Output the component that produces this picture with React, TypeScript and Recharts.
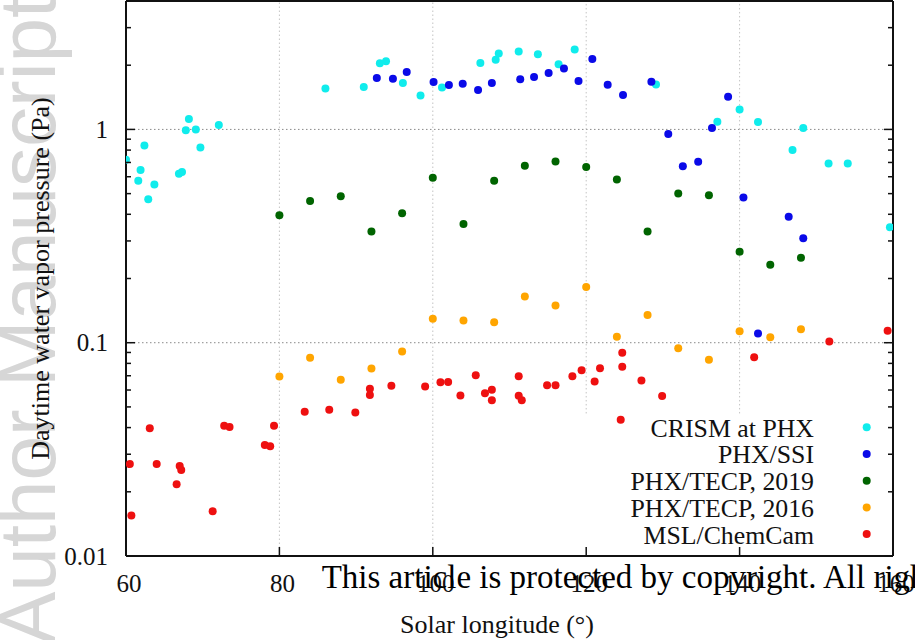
import React from 'react';
import { ScatterChart, Scatter, XAxis, YAxis, ReferenceLine, Legend } from 'recharts';

// ---------- data (Solar longitude °, pressure Pa) ----------
const crismLs = [60.0, 61.6, 61.9, 62.4, 62.9, 63.7, 66.9, 67.3, 67.8, 68.2, 69.1, 69.7, 72.1, 86.0, 91.0, 93.1, 93.9, 96.1, 98.4, 101.2, 106.2, 108.2, 108.6, 111.2, 113.7, 116.4, 118.5, 129.1, 137.1, 140.0, 142.4, 146.9, 148.3, 151.6, 154.1, 159.6];
const crismP = [0.72, 0.575, 0.645, 0.84, 0.47, 0.552, 0.62, 0.632, 0.99, 1.12, 1.0, 0.823, 1.05, 1.556, 1.58, 2.04, 2.09, 1.65, 1.443, 1.573, 2.05, 2.12, 2.27, 2.32, 2.25, 2.02, 2.37, 1.625, 1.087, 1.24, 1.083, 0.801, 1.015, 0.693, 0.693, 0.348];

const ssiLs = [92.7, 94.8, 96.6, 100.1, 102.1, 103.9, 105.9, 107.7, 111.4, 113.2, 115.1, 117.1, 119.0, 120.8, 122.8, 124.8, 128.5, 130.7, 132.6, 134.6, 136.4, 138.5, 140.5, 142.4, 146.4, 148.3];
const ssiP = [1.74, 1.73, 1.86, 1.667, 1.614, 1.637, 1.53, 1.65, 1.72, 1.76, 1.84, 1.93, 1.686, 2.14, 1.62, 1.449, 1.673, 0.952, 0.671, 0.706, 1.015, 1.423, 0.479, 0.1104, 0.39, 0.309];

const tecp2019Ls = [80, 84, 88, 92, 96, 100, 104, 108, 112, 116, 120, 124, 128, 132, 136, 140, 144, 148];
const tecp2019P = [0.396, 0.462, 0.486, 0.332, 0.404, 0.594, 0.36, 0.575, 0.676, 0.708, 0.667, 0.583, 0.332, 0.5, 0.491, 0.267, 0.232, 0.25];

const tecp2016Ls = [80, 84, 88, 92, 96, 100, 104, 108, 112, 116, 120, 124, 128, 132, 136, 140, 144, 148];
const tecp2016P = [0.0695, 0.085, 0.067, 0.0757, 0.091, 0.1294, 0.127, 0.1248, 0.1646, 0.1493, 0.1827, 0.1066, 0.135, 0.0942, 0.0831, 0.1132, 0.1061, 0.1157];

const chemcamLs = [60.5, 60.7, 63.1, 64.0, 66.6, 67.0, 67.2, 71.3, 72.8, 73.5, 78.1, 78.8, 79.3, 83.3, 86.5, 89.9, 91.8, 91.8, 94.6, 99.0, 101.0, 102.0, 103.6, 105.6, 106.8, 107.7, 107.7, 111.2, 111.2, 111.6, 114.9, 116.0, 118.2, 119.4, 121.1, 121.8, 124.5, 124.7, 124.7, 127.2, 129.9, 141.9, 151.7, 159.3];
const chemcamP = [0.027, 0.0155, 0.0397, 0.027, 0.0217, 0.0264, 0.0253, 0.0162, 0.0408, 0.0402, 0.0331, 0.0327, 0.0408, 0.0475, 0.0485, 0.0471, 0.0608, 0.0568, 0.0628, 0.0623, 0.0653, 0.0655, 0.0566, 0.0704, 0.058, 0.0602, 0.0538, 0.0697, 0.0564, 0.0538, 0.0632, 0.0632, 0.0697, 0.0743, 0.0658, 0.076, 0.0435, 0.0897, 0.0771, 0.0665, 0.0562, 0.0855, 0.1013, 0.1137];

const seriesNames = ['CRISM at PHX', 'PHX/SSI', 'PHX/TECP, 2019', 'PHX/TECP, 2016', 'MSL/ChemCam'];
const seriesColors = ['#10ecec', '#0a0ae8', '#006400', '#ffa500', '#ee1010'];

const xTicks = [60, 80, 100, 120, 140, 160];
const xGrid = [80, 100, 120, 140];
const yMajor = [0.01, 0.1, 1];
const yTicks = [0.01, 0.02, 0.03, 0.04, 0.05, 0.06, 0.07, 0.08, 0.09, 0.1, 0.2, 0.3, 0.4, 0.5, 0.6, 0.7, 0.8, 0.9, 1, 2, 3, 4];
const xDomain = [60, 160];
const yDomain = [0.01, 4];
const legendBoxTop = 0.0466; // pressure where the opaque key starts

const toPoints = (ls: number[], p: number[]) => ls.map((x, i) => ({ ls: x, p: p[i] }));
const seriesData = [
  toPoints(crismLs, crismP),
  toPoints(ssiLs, ssiP),
  toPoints(tecp2019Ls, tecp2019P),
  toPoints(tecp2016Ls, tecp2016P),
  toPoints(chemcamLs, chemcamP),
];

const SERIF = '"Liberation Serif", "Times New Roman", Times, serif';
const AXIS = '#111';

const LeftTick = (props: any) => {
  const { x, y, payload } = props;
  const major = yMajor.includes(payload.value);
  return (
    <g>
      <line x1={x} y1={y} x2={x + (major ? 9 : 5)} y2={y} stroke={AXIS} strokeWidth={1.5} />
      {major && (
        <text x={x - 18} y={y} dy="0.34em" textAnchor="end" fontFamily={SERIF} fontSize={25} fill="#111">
          {String(payload.value)}
        </text>
      )}
    </g>
  );
};

const RightTick = (props: any) => {
  const { x, y, payload } = props;
  const major = yMajor.includes(payload.value);
  return <line x1={x} y1={y} x2={x - (major ? 9 : 5)} y2={y} stroke={AXIS} strokeWidth={1.5} />;
};

const BottomTick = (props: any) => {
  const { x, y, payload } = props;
  const inner = payload.value !== xDomain[0] && payload.value !== xDomain[1];
  return (
    <g>
      {inner && <line x1={x} y1={y} x2={x} y2={y - 9} stroke={AXIS} strokeWidth={1.5} />}
      <text x={x + 3} y={y + 36} textAnchor="middle" fontFamily={SERIF} fontSize={25} fill="#111">
        {String(payload.value)}
      </text>
    </g>
  );
};

const TopTick = (props: any) => {
  const { x, y, payload } = props;
  const inner = payload.value !== xDomain[0] && payload.value !== xDomain[1];
  return inner ? <line x1={x} y1={y} x2={x} y2={y + 9} stroke={AXIS} strokeWidth={1.5} /> : <g />;
};

const Dot = (props: any) => <circle cx={props.cx} cy={props.cy} r={4} fill={props.fill} />;

const renderLegend = (props: any) => {
  const payload = [...(props.payload || [])].sort(
    (a: any, b: any) => seriesNames.indexOf(a.value) - seriesNames.indexOf(b.value)
  );
  return (
    <svg width={285} height={140} style={{ display: 'block', overflow: 'visible' }}>
      {payload.map((e: any, i: number) => (
        <g key={e.value}>
          <text x={214} y={23.7 + i * 26.7} textAnchor="end" fontFamily={SERIF} fontSize={25.8} fill="#111">
            {e.value}
          </text>
          <circle cx={266.7} cy={14.3 + i * 26.7} r={4} fill={e.color} />
        </g>
      ))}
    </svg>
  );
};

export default function App() {
  return (
    <div style={{ position: 'absolute', left: 0, top: 0, width: 915, height: 640, background: '#fff', overflow: 'hidden' }}>
      {/* manuscript watermark (behind) */}
      <svg width={915} height={640} style={{ position: 'absolute', left: 0, top: 0 }}>
        <text
          x={55}
          y={645}
          transform="rotate(-90, 55, 645)"
          fontFamily='"Liberation Sans", Arial, sans-serif'
          fontSize={80}
          fill="#d6d6d6"
        >
          Author Manuscript
        </text>
      </svg>
      <div style={{ position: 'absolute', left: 0, top: 0 }}>
        <ScatterChart width={915} height={640} margin={{ top: 0, right: 21, bottom: 54, left: 66 }}>
          <XAxis
            xAxisId="b"
            type="number"
            dataKey="ls"
            domain={xDomain}
            ticks={xTicks}
            interval={0}
            allowDataOverflow
            height={30}
            tickSize={0}
            tickMargin={0}
            tick={<BottomTick />}
            axisLine={{ stroke: AXIS, strokeWidth: 2 }}
            tickLine={false}
            label={{
              content: () => (
                <text x={497} y={633} textAnchor="middle" fontFamily={SERIF} fontSize={26} fill="#111">
                  Solar longitude (°)
                </text>
              ),
            }}
          />
          <XAxis
            xAxisId="t"
            orientation="top"
            type="number"
            domain={xDomain}
            ticks={xTicks}
            interval={0}
            allowDataOverflow
            height={1}
            tickSize={0}
            tickMargin={0}
            tick={<TopTick />}
            axisLine={{ stroke: AXIS, strokeWidth: 2 }}
            tickLine={false}
          />
          <YAxis
            yAxisId="l"
            type="number"
            dataKey="p"
            scale="log"
            domain={yDomain}
            ticks={yTicks}
            interval={0}
            allowDataOverflow
            width={60}
            tickSize={0}
            tickMargin={0}
            tick={<LeftTick />}
            axisLine={{ stroke: AXIS, strokeWidth: 2 }}
            tickLine={false}
            label={{
              content: () => (
                <text
                  x={49}
                  y={278.5}
                  transform="rotate(-90, 49, 278.5)"
                  textAnchor="middle"
                  fontFamily={SERIF}
                  fontSize={26}
                  fill="#111"
                >
                  Daytime water vapor pressure (Pa)
                </text>
              ),
            }}
          />
          <YAxis
            yAxisId="r"
            orientation="right"
            type="number"
            scale="log"
            domain={yDomain}
            ticks={yTicks}
            interval={0}
            allowDataOverflow
            width={1}
            tickSize={0}
            tickMargin={0}
            tick={<RightTick />}
            axisLine={{ stroke: AXIS, strokeWidth: 2 }}
            tickLine={false}
          />
          {yMajor.slice(1).map((v) => (
            <ReferenceLine key={'h' + v} xAxisId="b" yAxisId="l" y={v} stroke="#8a8a8a" strokeWidth={1} strokeDasharray="1.5 2.5" />
          ))}
          {xGrid.map((v) => (
            <ReferenceLine
              key={'v' + v}
              xAxisId="b"
              yAxisId="l"
              segment={[
                { x: v, y: v >= 120 ? legendBoxTop : yDomain[0] },
                { x: v, y: yDomain[1] },
              ]}
              stroke="#c4c4c4"
              strokeWidth={1}
              strokeDasharray="1.5 2.5"
            />
          ))}
          {seriesData.map((d, i) => (
            <Scatter
              key={seriesNames[i]}
              name={seriesNames[i]}
              data={d}
              xAxisId="b"
              yAxisId="l"
              fill={seriesColors[i]}
              shape={<Dot />}
              isAnimationActive={false}
            />
          ))}
          <Legend
            layout="vertical"
            align="center"
            verticalAlign="middle"
            content={renderLegend}
            wrapperStyle={{ position: 'absolute', left: 600, top: 413, width: 285, height: 140 }}
          />
        </ScatterChart>
      </div>
      {/* copyright overlay (on top) */}
      <svg width={915} height={640} style={{ position: 'absolute', left: 0, top: 0, pointerEvents: 'none' }}>
        <text x={321.7} y={588} fontFamily={SERIF} fontSize={33} fill="#000">
          This article is protected by copyright. All rights reserved.
        </text>
      </svg>
    </div>
  );
}
